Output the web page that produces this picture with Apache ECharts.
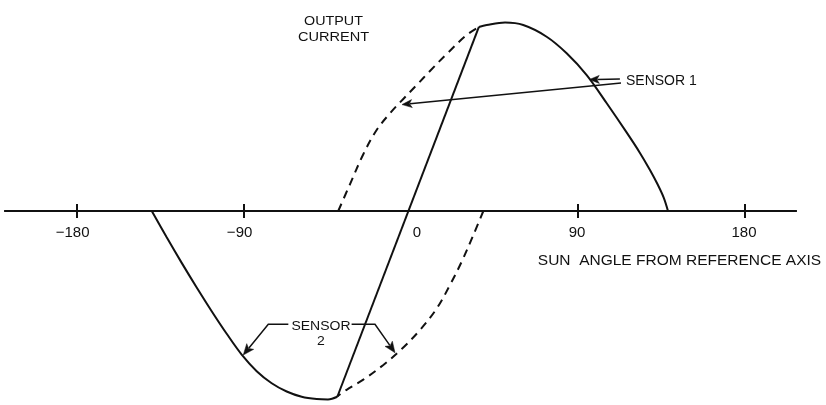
<!DOCTYPE html>
<html>
<head>
<meta charset="utf-8">
<script src="https://cdn.jsdelivr.net/npm/echarts@6/dist/echarts.min.js"></script>
<style>
html,body{margin:0;padding:0;background:#fff;}
#c{width:826px;height:405px;}
</style>
</head>
<body>
<div id="c"></div>
<script>
// ---- Data (sun angle in degrees, output current normalised to peak = 1) ----
const lowerSolidAngle = [-139.7,-131.66,-123.57,-115.49,-107.41,-99.32,-91.24,-83.15,-75.07,-66.99,-58.90,-50.82,-44.73,-39.7];
const lowerSolidCurrent = [0,-0.140,-0.276,-0.407,-0.533,-0.653,-0.764,-0.852,-0.916,-0.960,-0.988,-1.000,-1.002,-0.988];

const crossoverAngle = [-39.7, 36.6];
const crossoverCurrent = [-0.988, 0.979];

const upperSolidAngle = [36.6,40.8,50.7,60.5,73.1,83.9,94.7,105.5,116.2,123.4,128.8,133.1,136.3,138.5];
const upperSolidCurrent = [0.979,0.989,1.002,0.989,0.927,0.839,0.723,0.573,0.418,0.309,0.218,0.138,0.069,0];

const upperDashAngle = [-39.2,-32.9,-25.7,-18.5,-11.3,-4.15,3.07,10.24,19.24,30.0,36.6];
const upperDashCurrent = [0,0.142,0.302,0.431,0.520,0.596,0.670,0.745,0.835,0.936,0.979];

const lowerDashAngle = [39.0,33.6,27.3,21.0,13.9,4.85,-5.0,-14.9,-25.7,-34.7,-39.7];
const lowerDashCurrent = [0,-0.128,-0.270,-0.394,-0.518,-0.633,-0.734,-0.819,-0.897,-0.951,-0.986];

const tickValues = [-180, -90, 90, 180];
const labelValues = [-180, -90, 0, 90, 180];
const labelTexts = ['\u2212180', '\u221290', '0', '90', '180'];

// annotation anchors in data coordinates [angle, current]
const sensor1Short = [[112.6, 0.702], [96.1, 0.699]];
const sensor1Long = [[113.2, 0.681], [-4.85, 0.566]];
const sensor2Left = [[-66.1, -0.603], [-76.9, -0.603], [-90.4, -0.766]];
const sensor2Right = [[-32.0, -0.603], [-19.4, -0.603], [-8.6, -0.754]];

const zip = (a, b) => a.map((v, i) => [v, b[i]]);
const INK = '#111';
const FONT = '"Liberation Sans", Arial, sans-serif';
const X_MIN = -218.8, X_MAX = 207.5;

const chart = echarts.init(document.getElementById('c'), null, {renderer: 'canvas'});

const lineBase = {type: 'line', showSymbol: false, symbol: 'none', silent: true, animation: false,
  xAxisIndex: 0, yAxisIndex: 0};

chart.setOption({
  animation: false,
  backgroundColor: '#fff',
  grid: [
    {left: 5, right: 30, top: 0, bottom: 0, containLabel: false, outerBoundsMode: 'none'},
    {left: 5, right: 30, top: 0, height: 211, containLabel: false, outerBoundsMode: 'none'}
  ],
  xAxis: [
    {
      type: 'value', gridIndex: 0, min: X_MIN, max: X_MAX,
      axisLine: {show: true, onZero: true, lineStyle: {color: INK, width: 2}},
      axisTick: {show: true, customValues: tickValues, length: 7, lineStyle: {color: INK, width: 2}},
      axisLabel: {show: false},
      splitLine: {show: false}
    },
    {
      type: 'value', gridIndex: 1, min: X_MIN, max: X_MAX, position: 'bottom',
      axisLine: {show: true, onZero: false, lineStyle: {color: INK, width: 2}},
      axisTick: {show: true, inside: true, customValues: tickValues, length: 7, lineStyle: {color: INK, width: 2}},
      axisLabel: {show: false},
      splitLine: {show: false}
    }
  ],
  yAxis: [
    {type: 'value', gridIndex: 0, min: -1.0319, max: 1.1223, show: false, splitLine: {show: false}},
    {type: 'value', gridIndex: 1, min: 0, max: 1, show: false, splitLine: {show: false}}
  ],
  series: [
    Object.assign({}, lineBase, {name: 'lowerSolid', data: zip(lowerSolidAngle, lowerSolidCurrent), smooth: 0.35,
      lineStyle: {color: INK, width: 2}}),
    Object.assign({}, lineBase, {name: 'crossover', data: zip(crossoverAngle, crossoverCurrent), smooth: false,
      lineStyle: {color: INK, width: 2}}),
    Object.assign({}, lineBase, {name: 'upperSolid', data: zip(upperSolidAngle, upperSolidCurrent), smooth: 0.35,
      lineStyle: {color: INK, width: 2}}),
    Object.assign({}, lineBase, {name: 'upperDash', data: zip(upperDashAngle, upperDashCurrent), smooth: 0.35,
      lineStyle: {color: INK, width: 2, type: [8, 6]}}),
    Object.assign({}, lineBase, {name: 'lowerDash', data: zip(lowerDashAngle, lowerDashCurrent), smooth: 0.35,
      lineStyle: {color: INK, width: 2, type: [8, 6]}})
  ]
});

// ---- annotations and tick labels ----
function px(p) { return chart.convertToPixel({gridIndex: 0}, p); }

function leader(points, headLen, headHalf) {
  const pts = points.map(px);
  const tip = pts[pts.length - 1];
  const prev = pts[pts.length - 2];
  const dx = tip[0] - prev[0], dy = tip[1] - prev[1];
  const len = Math.sqrt(dx * dx + dy * dy);
  const ux = dx / len, uy = dy / len;
  const bx = tip[0] - ux * headLen, by = tip[1] - uy * headLen;
  const nx = -uy, ny = ux;
  const linePts = pts.slice(0, -1).concat([[bx + ux * 2, by + uy * 2]]);
  return [
    {type: 'polyline', silent: true, shape: {points: linePts},
      style: {stroke: INK, lineWidth: 1.5, fill: null}},
    {type: 'polygon', silent: true, shape: {points: [
      tip, [bx + nx * headHalf, by + ny * headHalf], [bx + ux * 2.5, by + uy * 2.5], [bx - nx * headHalf, by - ny * headHalf]
    ]}, style: {fill: INK, stroke: INK, lineWidth: 0.5}}
  ];
}

function txt(text, x, y, size, scaleX, align) {
  return {type: 'text', x: x, y: y, scaleX: scaleX || 1, silent: true,
    style: {text: text, fill: INK, fontFamily: FONT, fontSize: size, align: align || 'center', verticalAlign: 'middle'}};
}

// tick labels: digits centred on the tick, minus sign hanging to the left
const tickLabelEls = labelValues.map(function (v, i) {
  const p = px([v, 0]);
  const dx = v < 0 ? -4.4 : (v === 0 ? 6 : -1);
  return txt(labelTexts[i], p[0] + dx, p[1] + 21.5, 15, 1.0);
});

const graphics = []
  .concat(leader(sensor1Short, 10, 4))
  .concat(leader(sensor1Long, 10, 4))
  .concat(leader(sensor2Left, 11, 4.5))
  .concat(leader(sensor2Right, 11, 4.5))
  .concat(tickLabelEls)
  .concat([
    txt('OUTPUT', 333.5, 21.5, 13, 1.1),
    txt('CURRENT', 333.5, 37.5, 13, 1.12),
    txt('SENSOR 1', 626, 81.5, 14, 1.0, 'left'),
    txt('SENSOR', 321, 326.5, 12.5, 1.12),
    txt('2', 321, 341.5, 12.5, 1.12),
    txt('SUN  ANGLE FROM REFERENCE AXIS', 679.5, 261, 15.5, 1.0)
  ]);

chart.setOption({graphic: {elements: graphics}});
</script>
</body>
</html>
